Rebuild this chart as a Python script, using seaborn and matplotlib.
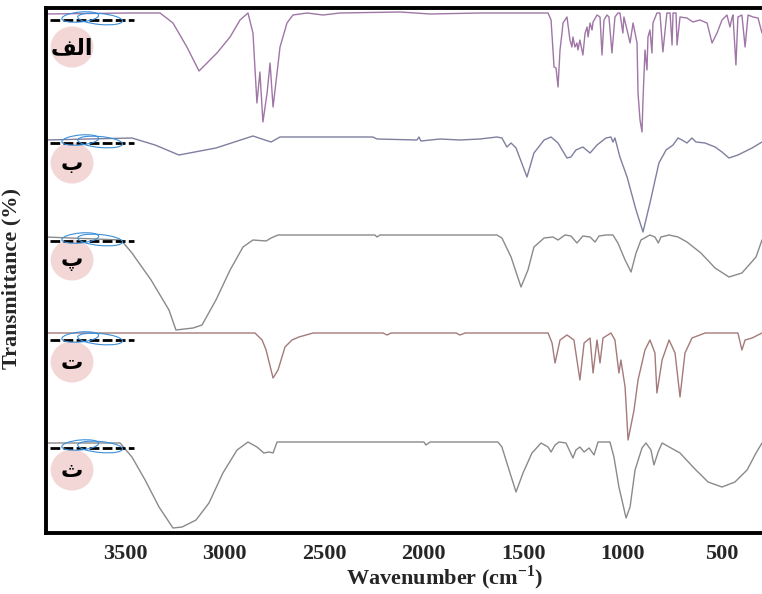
import numpy as np
import pandas as pd
import matplotlib
matplotlib.use("Agg")
import matplotlib.pyplot as plt
from matplotlib.patches import Ellipse
import seaborn as sns

sns.set_style("white")
plt.rcParams['font.family'] = ['Liberation Serif', 'DejaVu Sans']

# Sample labels (Persian letters) and their display form (matplotlib has no Arabic shaping)
labels = ["الف", "ب", "پ", "ت", "ث"]
shaped = {"الف": "\uFED2\uFEDF\uFE8D"}

# Spectra: wavenumber (cm-1) and stacked transmittance (offset units)
wn_a = [3900, 3475, 3324, 3259, 3189, 3128, 3088, 3038, 2972, 2922, 2882, 2857, 2837, 2822, 2807,
        2786, 2771, 2756, 2736, 2721, 2686, 2656, 2585, 2505, 2420, 2118, 1967, 1716, 1374, 1359,
        1344, 1334, 1324, 1314, 1304, 1299, 1279, 1264, 1254, 1249, 1239, 1229, 1224, 1214, 1199,
        1188, 1178, 1173, 1163, 1153, 1148, 1128, 1113, 1103, 1093, 1078, 1068, 1053, 1038, 1023,
        1013, 998, 993, 977, 962, 947, 927, 922, 912, 902, 897, 887, 877, 872, 862, 852, 847, 827,
        812, 797, 777, 761, 751, 746, 731, 726, 711, 676, 646, 611, 575, 550, 525, 500, 475, 460,
        450, 445, 430, 420, 400, 384, 369, 344, 319, 299]
t_a = [519, 520, 520, 510, 486, 462, 470, 480, 496, 513, 520, 500, 430, 461, 411,
       440, 470, 426, 460, 486, 510, 518, 520, 518, 520, 521, 519, 520, 520, 513,
       466, 465, 446, 483, 500, 510, 516, 493, 486, 496, 486, 490, 483, 493, 478,
       500, 506, 496, 510, 503, 511, 518, 516, 478, 513, 518, 516, 480, 516, 520,
       520, 500, 516, 503, 490, 510, 490, 440, 413, 401, 433, 483, 463, 496, 503, 480, 510, 520,
       520, 481, 520, 520, 488, 520, 520, 488, 516, 515, 511, 513, 510, 490, 500, 513, 518, 506,
       515, 518, 468, 516, 518, 486, 518, 516, 515, 500]

wn_b = [3900, 3465, 3349, 3229, 3043, 2857, 2812, 2766, 2721, 2535, 2254, 2234, 2033, 2023, 2013,
        1917, 1817, 1716, 1631, 1606, 1581, 1560, 1535, 1480, 1445, 1394, 1359, 1324, 1279, 1259,
        1234, 1199, 1163, 1128, 1083, 1058, 1048, 1038, 1013, 977, 932, 897, 862, 817, 781, 746,
        721, 701, 676, 651, 631, 585, 535, 500, 465, 420, 349, 299]
t_b = [393, 395, 388, 378, 385, 397, 394, 391, 396, 396, 396, 394, 393, 396, 392,
       394, 393, 394, 396, 395, 386, 390, 385, 356, 380, 393, 396, 390, 375, 376,
       383, 386, 380, 388, 395, 396, 391, 395, 376, 356, 323, 301, 330, 370, 383, 388,
       395, 393, 390, 395, 391, 390, 386, 381, 375, 378, 385, 391]

wn_p = [3900, 3520, 3465, 3369, 3279, 3244, 3158, 3113, 3043, 2972, 2907, 2857, 2791, 2766, 2731,
        2244, 2234, 2219, 1631, 1606, 1560, 1510, 1475, 1445, 1394, 1349, 1324, 1289, 1259, 1229,
        1199, 1163, 1138, 1118, 1083, 1048, 1023, 987, 957, 932, 907, 862, 837, 820, 807, 766,
        721, 676, 606, 535, 465, 400, 329, 299]
t_p = [296, 293, 280, 253, 223, 203, 205, 208, 233, 263, 286, 293, 292, 295, 298,
       298, 296, 298, 298, 295, 276, 246, 263, 286, 295, 296, 293, 298, 297, 290,
       297, 296, 291, 297, 298, 298, 290, 273, 261, 280, 293, 298, 296, 290, 296, 298,
       296, 291, 280, 265, 256, 260, 276, 293]

wn_t = [3900, 2847, 2811, 2791, 2766, 2756, 2731, 2696, 2661, 2626, 2590, 2555, 2204, 2183, 2163,
        1836, 1817, 1791, 1374, 1354, 1339, 1314, 1279, 1244, 1214, 1193, 1163, 1148, 1128, 1113,
        1098, 1058, 1038, 1018, 1008, 987, 972, 952, 942, 922, 887, 862, 837, 827, 801, 766, 736,
        711, 686, 651, 585, 420, 400, 384, 349, 299]
t_t = [200, 200, 193, 183, 163, 155, 163, 186, 193, 196, 198, 200, 200, 198, 200,
       200, 198, 200, 200, 190, 170, 193, 198, 193, 153, 190, 195, 160, 193, 170,
       195, 200, 193, 160, 173, 146, 93, 113, 123, 153, 183, 193, 180, 140, 173, 193, 180,
       136, 180, 195, 200, 200, 183, 193, 195, 200]

wn_s = [3900, 3525, 3465, 3399, 3329, 3259, 3213, 3143, 3078, 3008, 2937, 2882, 2837, 2802, 2776,
        2756, 2736, 1998, 1988, 1967, 1626, 1606, 1570, 1535, 1500, 1455, 1409, 1374, 1359, 1339,
        1319, 1284, 1249, 1234, 1214, 1193, 1168, 1143, 1123, 1063, 1043, 1018, 982, 962, 937,
        902, 882, 857, 842, 821, 801, 756, 711, 641, 570, 500, 435, 374, 329, 299]
t_s = [90, 90, 76, 53, 26, 5, 6, 13, 30, 60, 83, 91, 86, 80, 81,
       80, 91, 91, 88, 91, 91, 86, 63, 41, 60, 80, 90, 86, 81, 88,
       91, 90, 75, 83, 86, 81, 85, 78, 91, 91, 76, 46, 15, 26, 63,
       85, 90, 83, 68, 81, 90, 85, 80, 65, 51, 46, 51, 63, 80, 90]

spectra = [(wn_a, t_a), (wn_b, t_b), (wn_p, t_p), (wn_t, t_t), (wn_s, t_s)]
line_colors = ["#9f76a6", "#7f7f9f", "#8a8a8a", "#a47a7a", "#8a8a8a"]
logo_y = [513, 390, 292, 193, 85]
badge_y = [486, 370, 273, 171, 63]

fig = plt.figure(figsize=(7.62, 5.94), dpi=100)
ax = fig.add_axes([46 / 762, 61 / 594, 716 / 762, 525 / 594])

for (wn, t), lab, c in zip(spectra, labels, line_colors):
    df = pd.DataFrame({"wavenumber": wn, "T": t})
    sns.lineplot(data=df, x="wavenumber", y="T", sort=False, color=c, lw=1.0, ax=ax)

# Badges and the little instrument logo at the start of each trace
for lab, by, ly in zip(labels, badge_y, logo_y):
    ax.add_patch(Ellipse((3766, by), 215, 41, facecolor="#f3d6d6", edgecolor="none", zorder=3))
    ax.text(3766, by - 1, shaped.get(lab, lab), family=["DejaVu Sans"], fontweight="bold",
            fontsize=16, ha="center", va="center", color="black", zorder=4)
    ax.plot([3877, 3455], [ly, ly], color="black", lw=2.0, dashes=(3.5, 1.2), zorder=4)
    ax.add_patch(Ellipse((3725, ly + 3), 185, 10, angle=-1, fill=False,
                         edgecolor="#3b8fd9", lw=0.8, zorder=5))
    ax.add_patch(Ellipse((3625, ly + 1), 225, 11, angle=1, fill=False,
                         edgecolor="#3b8fd9", lw=0.8, zorder=5))

ax.set_xlim(3897, 299)
ax.set_ylim(0, 525)
ax.set_xticks([3500, 3000, 2500, 2000, 1500, 1000, 500])
ax.set_yticks([])
ax.tick_params(axis="x", direction="out", length=4, width=2.5, pad=4, labelsize=16)
for lbl in ax.get_xticklabels():
    lbl.set_fontweight("bold")
for side in ["left", "bottom", "top"]:
    ax.spines[side].set_linewidth(2.8)
    ax.spines[side].set_color("black")
ax.spines["right"].set_visible(False)

ax.set_xlabel(r"Wavenumber (cm$^{\mathregular{-1}}$)", fontsize=16, fontweight="bold")
ax.xaxis.set_label_coords(0.556, -0.058)
ax.set_ylabel("Transmittance (%)", fontsize=16, fontweight="bold")
ax.yaxis.set_label_coords(-0.034, 0.485)

fig.savefig("out.png", dpi=100)
